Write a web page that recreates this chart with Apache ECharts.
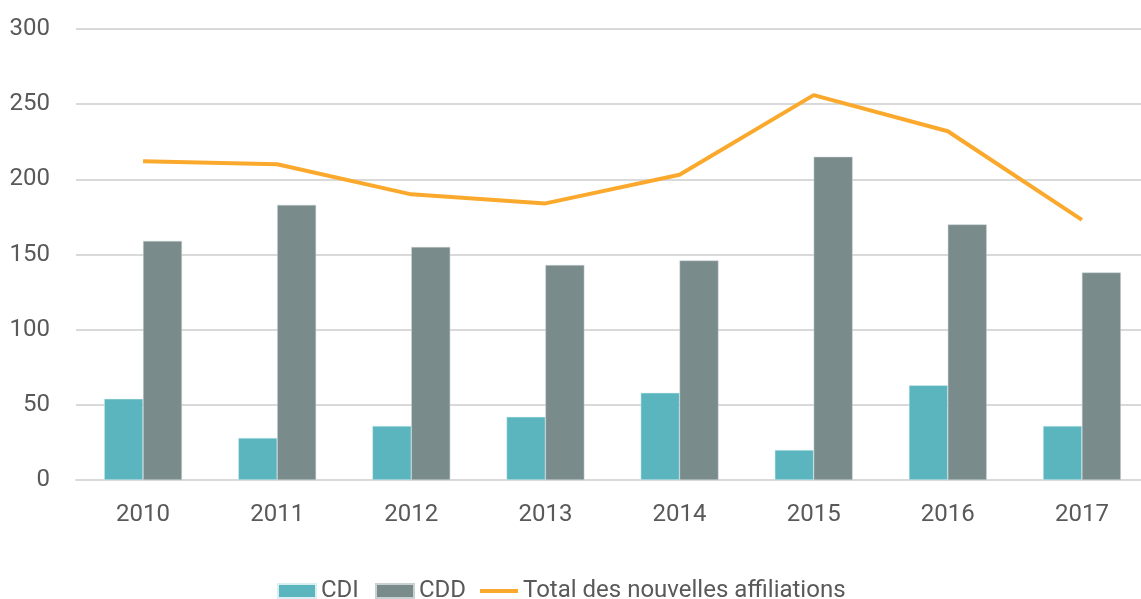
<!DOCTYPE html>
<html>
<head>
<meta charset="utf-8">
<script src="https://cdn.jsdelivr.net/npm/echarts@6/dist/echarts.min.js"></script>
<style>html,body{margin:0;padding:0;background:#fff}#c{width:1141px;height:599px}</style>
</head>
<body>
<div id="c"></div>
<script>
const years = ['2010','2011','2012','2013','2014','2015','2016','2017'];
const cdi = [54, 28, 36, 42, 58, 20, 63, 36];
const cdd = [159, 183, 155, 143, 146, 215, 170, 138];
const total = [212, 210, 190, 184, 203, 256, 232, 173];
const names = ['CDI', 'CDD', 'Total des nouvelles affiliations'];

const legendText = { fontFamily: 'Roboto', fontSize: 24, color: '#595959' };
function leg(left, item) {
  return { left: left, top: 579, padding: 0, itemWidth: 38, itemHeight: 14, itemGap: 0,
    textStyle: legendText, data: [item] };
}

const chart = echarts.init(document.getElementById('c'));
chart.setOption({
  animation: false,
  textStyle: { fontFamily: 'Roboto' },
  grid: { left: 76, right: -8, top: 29, bottom: 119, outerBoundsMode: 'none', containLabel: false },
  legend: [
    leg(277, { name: names[0], icon: 'rect' }),
    leg(375, { name: names[1], icon: 'rect' }),
    leg(480, { name: names[2], icon: 'path://M0,0 L38,0 L38,4 L0,4 Z' })
  ],
  xAxis: {
    type: 'category', data: years,
    axisLine: { lineStyle: { color: '#d9d9d9', width: 2 } },
    axisTick: { show: false },
    axisLabel: { color: '#595959', fontSize: 24, margin: 23 }
  },
  yAxis: {
    type: 'value', min: 0, max: 300, interval: 50,
    axisLine: { show: false }, axisTick: { show: false },
    splitLine: { lineStyle: { color: '#d9d9d9', width: 2 } },
    axisLabel: { color: '#595959', fontSize: 24, margin: 26 }
  },
  series: [
    { name: names[0], type: 'bar', data: cdi, barWidth: '29%', barGap: '0%',
      itemStyle: { color: '#5ab5bf', borderColor: '#d8eef0', borderWidth: 0.5 } },
    { name: names[1], type: 'bar', data: cdd, barWidth: '29%',
      itemStyle: { color: '#7a8b8c', borderColor: '#c9d1d2', borderWidth: 0.5 } },
    { name: names[2], type: 'line', data: total,
      symbol: 'none', lineStyle: { color: '#fba92c', width: 4 }, itemStyle: { color: '#fba92c' } }
  ]
});
</script>
</body>
</html>
